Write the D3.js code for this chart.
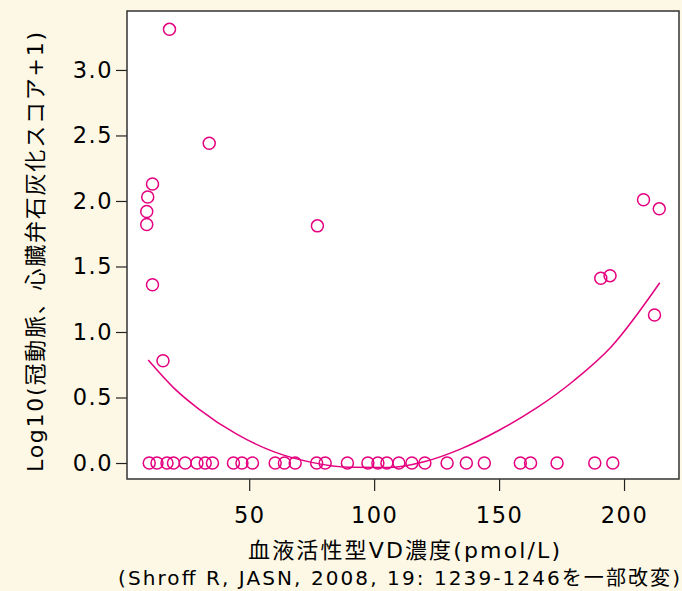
<!DOCTYPE html>
<html>
<head>
<meta charset="utf-8">
<script src="https://cdn.jsdelivr.net/npm/d3@7"></script>
<style>
  body { margin: 0; background: #fdf8e5; }
  svg { display: block; }
</style>
</head>
<body>
<svg id="chart"></svg>
<script>
// points with a zero score (bottom row)
var zeroX = [10.0, 13.1, 17.1, 19.7, 24.4, 29.1, 32.4, 35.3, 43.7, 47.1, 51.3,
  60.4, 64.1, 68.4, 77.0, 80.4, 89.3, 97.5, 101.5, 105.1, 109.9, 115.1, 120.3,
  129.2, 136.9, 144.1, 158.5, 162.6, 173.2, 188.3, 195.5];

// points with a positive score
var posX = [18.1, 34.0, 11.3, 9.4, 9.0, 9.0, 11.3, 15.5, 77.3, 190.7, 194.4, 207.8, 214.1, 212.2];
var posY = [3.31, 2.44, 2.13, 2.03, 1.92, 1.82, 1.36, 0.78, 1.81, 1.41, 1.43, 2.01, 1.94, 1.13];

// fitted curve
var fitX = [9.6, 20, 30, 45, 60, 75, 90, 105, 120, 135, 150, 165, 180, 195, 214.3];
var fitY = [0.786, 0.57, 0.41, 0.22, 0.085, 0.005, -0.033, -0.035, 0.01, 0.11, 0.25, 0.42, 0.63, 0.89, 1.376];

var yTicks = [0, 0.5, 1.0, 1.5, 2.0, 2.5, 3.0];
var xTicks = [50, 100, 150, 200];

var yTitle = "Log10(冠動脈、心臓弁石灰化スコア+1)";
var xTitle = "血液活性型VD濃度(pmol/L)";
var source = "(Shroff R, JASN, 2008, 19: 1239-1246を一部改変)";

var margin = { top: 11, right: 3, bottom: 112, left: 127 },
  width = 682 - margin.left - margin.right,
  height = 591 - margin.top - margin.bottom;

var pink = "#e4007f";
var font = "'DejaVu Sans', 'Noto Sans CJK JP', sans-serif";

var root = d3.select("#chart")
  .attr("width", 682)
  .attr("height", 591)
  .style("font-family", font);

var svg = root.append("g")
  .attr("transform", "translate(" + margin.left + "," + margin.top + ")");

var x = d3.scaleLinear().domain([1.1, 222]).range([0, width]);
var y = d3.scaleLinear().domain([-0.122, 3.45]).range([height, 0]);

// plot background
svg.append("rect")
  .attr("width", width)
  .attr("height", height)
  .style("fill", "white");

// X axis
var gx = svg.append("g")
  .attr("transform", "translate(0," + height + ")")
  .call(d3.axisBottom(x).tickValues(xTicks).tickSize(12).tickPadding(16).tickSizeOuter(0));
gx.select(".domain").remove();
gx.selectAll("line").style("stroke", "#222").style("stroke-width", 1.2);
gx.selectAll("text")
  .style("font-size", "22.5px")
  .style("font-family", font)
  .style("letter-spacing", "1.5px")
  .style("fill", "black");

// Y axis
var gy = svg.append("g")
  .call(d3.axisLeft(y).tickValues(yTicks).tickFormat(d3.format(".1f")).tickSize(11).tickPadding(3).tickSizeOuter(0));
gy.select(".domain").remove();
gy.selectAll("line").style("stroke", "#222").style("stroke-width", 1.2);
gy.selectAll("text")
  .style("font-size", "22.5px")
  .style("font-family", font)
  .style("letter-spacing", "1.5px")
  .style("fill", "black");

// fitted curve
var line = d3.line()
  .x(function (d) { return x(d[0]); })
  .y(function (d) { return y(d[1]); })
  .curve(d3.curveMonotoneX);

svg.append("path")
  .datum(d3.zip(fitX, fitY))
  .attr("d", line)
  .style("fill", "none")
  .style("stroke", pink)
  .style("stroke-width", 1.5);

// points
var pts = zeroX.map(function (v) { return [v, 0]; }).concat(d3.zip(posX, posY));
svg.selectAll("circle.pt")
  .data(pts)
  .enter()
  .append("circle")
  .attr("class", "pt")
  .attr("cx", function (d) { return x(d[0]); })
  .attr("cy", function (d) { return y(d[1]); })
  .attr("r", 6)
  .style("fill", "none")
  .style("stroke", pink)
  .style("stroke-width", 1.5);

// frame
svg.append("rect")
  .attr("width", width)
  .attr("height", height)
  .style("fill", "none")
  .style("stroke", "#333")
  .style("stroke-width", 1.5);

// axis titles
root.append("text")
  .attr("transform", "translate(43," + 252 + ")rotate(-90)")
  .attr("textLength", 440)
  .attr("lengthAdjust", "spacing")
  .style("text-anchor", "middle")
  .style("font-size", "22px")
  .style("fill", "black")
  .text(yTitle);

root.append("text")
  .attr("x", 404)
  .attr("y", 558)
  .attr("textLength", 312)
  .attr("lengthAdjust", "spacing")
  .style("text-anchor", "middle")
  .style("font-size", "22px")
  .style("fill", "black")
  .text(xTitle);

root.append("text")
  .attr("x", 399)
  .attr("y", 585)
  .attr("textLength", 562)
  .attr("lengthAdjust", "spacing")
  .style("text-anchor", "middle")
  .style("font-size", "20px")
  .style("fill", "black")
  .text(source);
</script>
</body>
</html>
